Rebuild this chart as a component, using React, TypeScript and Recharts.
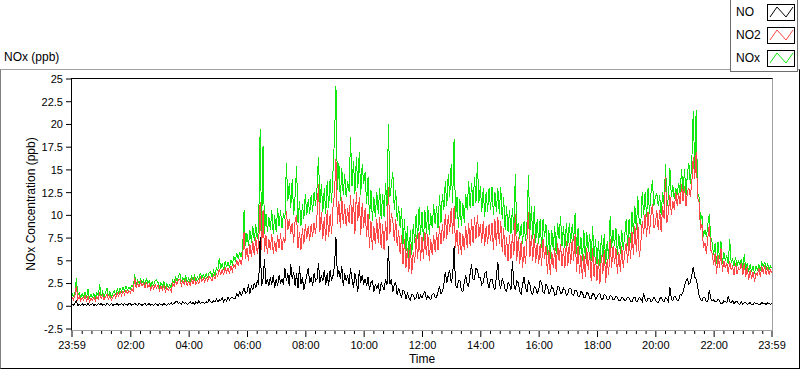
import { LineChart, Line, XAxis, YAxis } from "recharts";

// minutes since 23:59, one sample every 3 min
const STEP_MIN = 3;

const NO2 = [
  1.0, 0.7, 1.2, 2.2, 0.8, 1.1, 0.6, 1.0, 0.7, 1.2,
  0.6, 1.1, 0.5, 0.9, 0.7, 1.0, 0.6, 1.1, 0.8, 1.4,
  0.8, 1.2, 0.7, 1.1, 1.3, 0.8, 1.2, 0.7, 1.0, 1.3,
  0.9, 1.5, 1.1, 1.6, 1.2, 1.7, 1.3, 1.8, 1.4, 1.7,
  1.5, 1.9, 1.7, 3.1, 2.0, 2.6, 2.1, 2.7, 2.2, 2.5,
  2.0, 2.7, 2.1, 2.4, 1.8, 2.3, 1.9, 2.4, 2.0, 2.3,
  1.7, 2.2, 1.8, 2.3, 1.6, 2.1, 1.7, 2.0, 1.6, 2.5,
  2.2, 2.8, 2.4, 2.9, 3.0, 2.3, 2.8, 2.4, 2.9, 2.3,
  2.7, 2.3, 2.9, 2.5, 3.0, 2.4, 2.8, 2.5, 3.2, 2.7,
  3.1, 2.7, 3.2, 2.8, 3.3, 3.1, 2.8, 3.4, 3.0, 3.6,
  3.3, 4.1, 3.5, 4.0, 3.4, 4.3, 3.7, 4.2, 3.6, 4.4,
  3.9, 4.6, 4.3, 5.0, 4.5, 5.2, 4.6, 5.4, 8.2, 5.2,
  6.4, 5.0, 6.8, 5.4, 7.2, 5.6, 7.6, 5.8, 6.8, 11.5,
  6.2, 10.6, 6.0, 7.8, 5.8, 7.4, 6.2, 8.0, 5.8, 7.2,
  6.0, 7.8, 6.4, 8.0, 6.2, 7.6, 7.0, 10.5, 8.4, 9.6,
  8.0, 9.2, 7.0, 9.4, 10.0, 6.4, 8.2, 6.2, 8.6, 6.8,
  9.0, 7.4, 8.8, 7.2, 9.0, 7.6, 9.2, 8.0, 10.0, 13.5,
  8.2, 10.4, 7.4, 9.8, 7.2, 10.6, 7.6, 10.2, 8.0, 11.0,
  12.4, 16.2, 9.0, 11.6, 8.6, 12.0, 9.0, 11.2, 8.8, 10.8,
  9.2, 12.2, 9.0, 11.8, 8.0, 12.6, 9.4, 12.0, 7.8, 11.4,
  8.6, 10.8, 7.6, 10.2, 6.4, 9.4, 6.2, 8.8, 6.8, 9.6,
  7.0, 9.8, 6.4, 9.0, 6.2, 9.4, 7.2, 13.1, 8.0, 10.2,
  9.4, 7.2, 9.6, 6.6, 8.4, 5.8, 7.8, 4.6, 7.4, 4.2,
  6.4, 3.8, 6.8, 3.6, 6.0, 4.8, 7.8, 5.2, 8.2, 5.0,
  7.6, 5.2, 8.2, 5.6, 8.0, 5.0, 7.4, 5.6, 7.8, 6.0,
  8.2, 6.2, 8.8, 6.8, 9.0, 7.2, 10.2, 7.4, 10.0, 8.2,
  10.8, 8.0, 11.0, 6.4, 8.4, 5.8, 8.2, 5.6, 8.0, 6.2,
  8.8, 6.4, 9.2, 6.6, 9.6, 7.0, 9.8, 7.4, 10.0, 7.6,
  9.0, 7.0, 9.4, 6.6, 8.8, 6.8, 9.0, 7.2, 9.2, 6.2,
  9.6, 6.6, 9.8, 6.8, 9.4, 6.0, 8.6, 5.4, 7.6, 5.0,
  7.8, 5.2, 8.0, 5.6, 10.2, 5.0, 7.6, 4.6, 7.2, 4.2,
  6.6, 4.6, 7.4, 10.4, 5.4, 7.8, 5.0, 8.0, 4.8, 7.0,
  4.6, 6.8, 4.4, 7.4, 5.2, 6.6, 3.6, 6.2, 3.4, 6.0,
  4.2, 6.4, 3.8, 7.0, 5.0, 6.8, 4.4, 6.4, 4.2, 7.2,
  4.4, 7.0, 4.6, 7.4, 5.0, 8.0, 3.8, 6.6, 3.6, 5.6,
  3.0, 5.8, 3.2, 6.4, 4.0, 6.0, 2.8, 6.4, 3.2, 5.4,
  2.8, 5.2, 2.4, 5.6, 3.6, 6.2, 2.6, 5.2, 3.4, 7.4,
  4.2, 6.6, 4.6, 6.4, 3.6, 6.0, 3.8, 6.6, 4.2, 5.8,
  7.0, 4.8, 7.6, 5.2, 8.2, 5.6, 8.8, 6.0, 9.2, 5.4,
  6.8, 9.4, 8.0, 10.2, 7.6, 10.4, 8.0, 10.0, 11.2, 8.6,
  9.0, 10.6, 8.4, 10.6, 8.2, 11.0, 9.6, 14.2, 9.2, 10.4,
  12.2, 10.0, 11.6, 10.6, 12.6, 11.0, 12.4, 11.2, 13.4, 11.6,
  13.2, 11.0, 12.6, 13.0, 12.0, 13.6, 16.4, 14.0, 17.0, 12.0,
  11.4, 8.4, 9.0, 6.4, 7.0, 5.8, 7.6, 9.0, 6.2, 5.8,
  4.6, 5.8, 3.6, 5.6, 4.2, 6.4, 3.8, 5.0, 4.2, 4.8,
  3.6, 5.0, 4.0, 4.4, 3.4, 4.8, 3.6, 4.2, 4.0, 4.8,
  3.4, 4.8, 3.2, 4.4, 2.9, 4.0, 3.0, 3.8, 2.7, 3.6,
  3.4, 4.2, 3.2, 4.4, 3.6, 4.5, 3.4, 4.3, 3.5, 4.0,
  3.7,
];

const NOX = [
  1.4, 1.1, 1.5, 3.1, 1.2, 1.5, 1.0, 1.4, 1.0, 1.6,
  0.9, 1.9, 0.8, 1.3, 1.0, 1.4, 0.9, 1.5, 1.2, 2.4,
  1.1, 1.6, 1.0, 1.5, 2.0, 1.1, 1.6, 1.0, 1.4, 1.7,
  1.3, 1.9, 1.5, 2.0, 1.6, 2.1, 1.7, 2.2, 1.8, 2.1,
  1.9, 2.3, 2.1, 3.5, 2.4, 2.9, 2.5, 3.0, 2.6, 2.9,
  2.4, 3.1, 2.5, 2.8, 2.2, 2.7, 2.3, 2.8, 2.9, 2.6,
  2.1, 2.6, 2.2, 2.7, 2.0, 2.5, 2.1, 2.4, 2.0, 2.9,
  2.6, 3.2, 2.8, 3.3, 3.6, 2.7, 3.2, 2.8, 3.3, 2.7,
  3.1, 2.7, 3.3, 2.9, 3.4, 2.8, 3.2, 2.9, 3.7, 3.1,
  3.5, 3.1, 3.6, 3.2, 3.7, 3.8, 3.2, 3.9, 3.4, 4.2,
  3.9, 5.3, 4.1, 4.7, 4.0, 5.0, 4.3, 4.9, 4.2, 5.1,
  4.6, 5.4, 5.0, 5.8, 5.2, 6.0, 5.4, 6.3, 10.6, 6.6,
  8.0, 6.6, 8.4, 7.0, 8.8, 7.2, 9.0, 7.4, 8.6, 19.5,
  8.2, 17.6, 8.0, 10.2, 8.2, 9.8, 8.4, 10.6, 8.0, 10.0,
  8.2, 10.8, 8.8, 10.6, 8.6, 10.2, 9.6, 15.8, 11.6, 13.6,
  10.8, 14.0, 10.0, 12.2, 15.4, 9.2, 11.6, 8.8, 11.2, 9.6,
  12.4, 10.0, 11.8, 10.2, 12.2, 10.4, 12.6, 11.0, 13.0, 16.4,
  11.2, 13.4, 10.4, 13.0, 10.2, 13.8, 10.8, 14.0, 11.4, 15.0,
  18.5, 24.2, 12.8, 15.8, 11.6, 15.2, 12.2, 14.6, 12.0, 13.8,
  12.6, 18.6, 13.2, 16.0, 12.4, 16.4, 13.0, 17.0, 12.2, 15.6,
  13.4, 14.8, 11.2, 14.2, 9.6, 12.8, 9.4, 12.0, 9.8, 12.6,
  10.2, 13.0, 9.6, 12.4, 9.8, 13.6, 11.0, 20.1, 12.0, 13.4,
  14.8, 10.6, 12.8, 9.4, 11.0, 8.6, 10.8, 6.8, 9.6, 6.0,
  8.8, 4.8, 8.4, 5.6, 9.0, 7.0, 10.2, 7.4, 10.9, 7.8,
  10.4, 7.2, 10.6, 8.0, 11.0, 7.8, 10.2, 8.6, 11.2, 9.0,
  11.0, 8.6, 12.2, 9.2, 12.4, 10.6, 13.8, 11.0, 14.6, 12.0,
  15.6, 11.4, 18.4, 9.6, 12.0, 8.6, 11.8, 8.8, 11.4, 9.2,
  12.4, 10.6, 13.8, 10.8, 13.6, 11.0, 14.2, 11.4, 15.9, 11.4,
  13.2, 10.4, 13.0, 9.8, 12.6, 10.4, 13.0, 10.6, 13.1, 10.0,
  12.6, 10.4, 13.0, 10.2, 13.1, 9.6, 12.0, 8.4, 11.0, 8.2,
  10.6, 8.0, 10.8, 8.4, 14.6, 8.0, 9.2, 7.4, 9.0, 6.9,
  9.4, 7.2, 9.2, 14.4, 8.2, 11.0, 7.4, 11.0, 7.0, 9.6,
  6.8, 9.6, 6.4, 9.6, 7.6, 9.0, 5.6, 8.4, 5.2, 8.4,
  6.2, 8.8, 5.8, 9.2, 7.4, 9.9, 6.6, 8.8, 6.4, 9.2,
  6.6, 9.2, 7.0, 9.0, 7.2, 10.3, 5.8, 8.6, 5.6, 7.6,
  5.0, 8.4, 5.2, 8.2, 6.0, 8.0, 5.0, 8.8, 5.4, 7.4,
  4.6, 7.2, 4.4, 7.8, 5.4, 8.0, 4.6, 7.2, 5.2, 9.9,
  6.4, 8.4, 6.6, 8.6, 5.6, 8.0, 5.8, 8.4, 6.2, 7.8,
  9.6, 6.6, 9.6, 7.0, 10.4, 8.0, 11.0, 8.4, 12.1, 9.2,
  9.0, 12.6, 10.0, 12.6, 9.8, 13.0, 10.2, 12.4, 13.9, 11.0,
  12.0, 12.4, 11.0, 12.2, 10.0, 12.6, 11.2, 15.6, 11.0, 12.0,
  15.2, 12.0, 13.3, 11.8, 13.0, 12.2, 13.6, 12.4, 15.1, 12.6,
  15.1, 12.2, 14.6, 15.8, 13.4, 15.8, 21.5, 15.0, 21.6, 12.4,
  12.0, 9.4, 10.0, 7.6, 8.4, 7.6, 9.0, 10.1, 7.6, 7.0,
  5.6, 7.0, 4.6, 7.1, 5.2, 7.2, 4.6, 6.0, 5.0, 5.6,
  4.6, 7.4, 4.8, 5.2, 4.4, 5.4, 4.4, 5.0, 4.6, 5.2,
  4.2, 5.7, 4.0, 4.8, 3.8, 4.6, 3.8, 4.4, 3.6, 4.4,
  4.0, 4.6, 3.9, 4.8, 4.4, 4.9, 4.0, 4.7, 4.0, 4.4,
  4.2,
];

const NO = [
  0.2, 0.1, 0.3, 0.6, 0.1, 0.2, 0.1, 0.3, 0.1, 0.2,
  0.1, 0.3, 0.1, 0.2, 0.3, 0.1, 0.2, 0.1, 0.3, 0.2,
  0.3, 0.1, 0.2, 0.1, 0.3, 0.2, 0.1, 0.3, 0.1, 0.2,
  0.2, 0.3, 0.1, 0.2, 0.3, 0.1, 0.3, 0.2, 0.1, 0.3,
  0.3, 0.1, 0.2, 0.3, 0.2, 0.1, 0.3, 0.2, 0.1, 0.2,
  0.3, 0.1, 0.2, 0.3, 0.1, 0.2, 0.1, 0.3, 0.2, 0.1,
  0.3, 0.2, 0.1, 0.3, 0.2, 0.1, 0.3, 0.2, 0.4, 0.2,
  0.3, 0.5, 0.6, 0.3, 0.4, 0.2, 0.5, 0.3, 0.4, 0.2,
  0.3, 0.5, 0.3, 0.4, 0.2, 0.5, 0.3, 0.6, 0.3, 0.4,
  0.4, 0.3, 0.5, 0.4, 0.8, 0.5, 0.4, 0.6, 0.5, 0.8,
  0.5, 0.7, 0.6, 0.9, 0.5, 0.8, 0.6, 1.0, 0.7, 0.9,
  1.0, 0.8, 0.9, 1.4, 1.1, 1.6, 1.2, 1.5, 2.0, 1.4,
  1.6, 2.4, 1.4, 2.2, 1.8, 2.6, 2.0, 2.8, 2.4, 7.6,
  2.2, 3.0, 5.2, 2.4, 3.0, 2.2, 3.2, 2.4, 3.4, 2.0,
  3.0, 2.2, 3.4, 2.6, 3.0, 2.4, 4.2, 2.8, 3.6, 2.2,
  4.6, 3.0, 3.8, 2.2, 3.6, 2.0, 4.4, 2.4, 3.2, 1.8,
  2.6, 3.4, 4.2, 2.6, 3.2, 2.2, 3.6, 2.8, 3.0, 4.8,
  2.6, 3.4, 2.8, 4.0, 2.4, 3.6, 2.2, 4.0, 2.8, 3.4,
  4.4, 7.6, 3.2, 4.0, 3.0, 4.4, 2.2, 3.6, 2.8, 3.4,
  2.4, 4.2, 3.0, 2.0, 3.6, 2.8, 1.6, 4.0, 2.6, 3.4,
  2.4, 3.0, 2.2, 3.2, 1.8, 2.6, 2.8, 1.6, 2.4, 2.0,
  2.4, 1.4, 2.6, 2.2, 1.8, 3.0, 2.4, 6.6, 2.4, 3.0,
  1.6, 2.4, 2.6, 1.2, 2.0, 1.4, 1.0, 1.8, 1.6, 0.8,
  1.4, 0.9, 0.7, 1.3, 1.2, 0.8, 0.9, 1.6, 0.8, 1.2,
  0.9, 1.4, 1.6, 0.8, 1.2, 0.9, 0.7, 1.3, 1.4, 1.0,
  1.0, 1.6, 2.2, 1.4, 1.6, 2.4, 3.8, 2.6, 3.4, 4.0,
  2.6, 3.2, 6.6, 2.4, 2.0, 2.8, 2.8, 1.8, 1.6, 2.6,
  3.4, 2.4, 2.2, 3.6, 4.6, 3.0, 3.0, 4.2, 4.0, 3.2,
  3.2, 2.4, 2.6, 3.6, 3.8, 2.6, 2.0, 3.0, 3.0, 2.2,
  1.8, 3.2, 4.9, 2.4, 2.0, 3.0, 2.6, 1.8, 1.6, 2.6,
  2.4, 1.8, 5.0, 2.4, 1.8, 2.8, 2.6, 1.6, 1.4, 2.4,
  3.2, 2.0, 1.6, 2.8, 2.4, 1.4, 1.3, 2.2, 2.0, 1.4,
  1.8, 2.8, 2.6, 1.6, 1.4, 2.4, 2.2, 1.4, 1.6, 2.2,
  1.9, 1.2, 1.3, 2.2, 2.1, 1.4, 1.5, 2.0, 1.8, 1.2,
  1.4, 2.0, 2.0, 1.3, 1.2, 1.8, 1.7, 1.1, 1.1, 1.6,
  1.5, 1.0, 1.0, 1.5, 1.4, 0.9, 0.9, 1.4, 1.3, 0.8,
  1.0, 1.3, 1.4, 0.8, 0.8, 1.3, 1.2, 0.7, 0.7, 1.2,
  1.1, 0.7, 0.8, 1.1, 1.0, 0.6, 0.6, 1.0, 0.9, 0.6,
  0.7, 1.0, 0.9, 0.5, 0.5, 0.9, 1.0, 0.5, 0.6, 1.0,
  0.8, 0.5, 1.4, 0.7, 0.5, 0.9, 0.9, 0.5, 0.6, 1.0,
  0.7, 0.5, 0.4, 0.8, 1.0, 0.6, 0.5, 0.9, 0.8, 0.5,
  2.1, 0.8, 0.6, 1.1, 1.0, 0.6, 0.7, 1.3, 1.2, 1.6,
  2.2, 2.8, 3.0, 2.4, 2.6, 3.4, 4.3, 3.2, 3.0, 2.2,
  1.2, 0.7, 0.6, 1.0, 0.9, 0.5, 0.5, 1.8, 0.8, 0.6,
  0.7, 0.5, 0.5, 0.8, 0.6, 0.3, 0.3, 0.6, 0.5, 0.4,
  1.1, 0.5, 0.4, 0.6, 0.3, 0.5, 0.6, 0.3, 0.2, 0.5,
  0.2, 0.4, 0.4, 0.2, 0.3, 0.4, 0.2, 0.2, 0.4, 0.3,
  0.3, 0.2, 0.2, 0.4, 0.3, 0.3, 0.2, 0.4, 0.3, 0.2,
  0.3,
];

const TIME_LABELS = ["23:59", "02:00", "04:00", "06:00", "08:00", "10:00", "12:00", "14:00", "16:00", "18:00", "20:00", "22:00", "23:59"];
const Y_TICKS = [-2.5, 0, 2.5, 5, 7.5, 10, 12.5, 15, 17.5, 20, 22.5, 25];

// legend order; drawn in reverse so NO sits on top
const SERIES = [
  { key: "NO", color: "#000000" },
  { key: "NO2", color: "#ff4848" },
  { key: "NOx", color: "#10e810" },
];

const FONT = '"Liberation Sans", Arial, sans-serif';
const END_MIN = (NO.length - 1) * STEP_MIN;

const data = NO.map((v, i) => ({ t: i * STEP_MIN, NO: v, NO2: NO2[i], NOx: NOX[i] }));

const MAJOR_TICKS = TIME_LABELS.map((_, k) => (k === 0 ? 0 : k === TIME_LABELS.length - 1 ? END_MIN : k * 120 + 1));
const X_TICKS = [0, ...Array.from({ length: 71 }, (_, j) => 21 + j * 20), END_MIN];

function TimeTick(props: any) {
  const { x, y, payload } = props;
  const k = MAJOR_TICKS.indexOf(payload.value);
  return (
    <g>
      <line x1={x} x2={x} y1={y + 2} y2={y + (k >= 0 ? 8 : 5)} stroke="#000" />
      {k >= 0 && (
        <text x={x} y={y + 20} textAnchor="middle" fontSize={11} fill="#000" fontFamily={FONT}>
          {TIME_LABELS[k]}
        </text>
      )}
    </g>
  );
}

function Swatch({ color }: { color: string }) {
  return (
    <svg width={28} height={17} style={{ display: "block" }}>
      <rect x={0.5} y={0.5} width={27} height={16} fill="#fff" stroke="#000" />
      <polyline points="3,13 10,3 19,13 26,3" fill="none" stroke={color} strokeWidth={1} />
    </svg>
  );
}

export default function App() {
  return (
    <div style={{ position: "relative", width: 800, height: 369, background: "#fff", fontFamily: FONT, overflow: "hidden" }}>
      <style>{"body{margin:0}"}</style>

      {/* outer panel frame */}
      <div style={{ position: "absolute", left: 0, top: 69, width: 800, height: 300, boxSizing: "border-box",
        borderTop: "1px solid #a0a0a0", borderLeft: "1px solid #808080", borderRight: "1px solid #000", borderBottom: "1px solid #000" }} />

      <div style={{ position: "absolute", left: 4, top: 50, fontSize: 12, color: "#000" }}>NOx (ppb)</div>

      <div style={{ position: "absolute", left: 0, top: 0 }}>
        <LineChart width={800} height={369} data={data} margin={{ top: 79, right: 28, bottom: 0, left: 0 }}>
          <XAxis type="number" dataKey="t" domain={[0, END_MIN]} ticks={X_TICKS} interval={0}
            axisLine={false} tickLine={false} tickSize={0} tickMargin={0} height={40} tick={<TimeTick />} />
          <YAxis type="number" domain={[-2.5, 25]} ticks={Y_TICKS} interval={0} width={72}
            axisLine={false} tickSize={6} tickMargin={3} tickLine={{ stroke: "#000" }}
            tick={{ fontSize: 11, fill: "#000", fontFamily: FONT }} />
          {[...SERIES].reverse().map((s) => (
            <Line key={s.key} type="linear" dataKey={s.key} stroke={s.color} strokeWidth={1}
              dot={false} activeDot={false} isAnimationActive={false} style={{ shapeRendering: "crispEdges" }} />
          ))}
        </LineChart>
      </div>

      {/* plot frame: sunken border */}
      <div style={{ position: "absolute", left: 71, top: 78, width: 702, height: 253, boxSizing: "border-box", pointerEvents: "none",
        borderTop: "1px solid #000", borderLeft: "1px solid #000", borderRight: "1px solid #a0a0a0", borderBottom: "1px solid #a0a0a0" }} />

      <div style={{ position: "absolute", left: 31, top: 204, transform: "translate(-50%, -50%) rotate(-90deg)",
        whiteSpace: "nowrap", fontSize: 12, color: "#000" }}>NOx Concentration (ppb)</div>
      <div style={{ position: "absolute", left: 422, top: 359, transform: "translate(-50%, -50%)", fontSize: 12, color: "#000" }}>Time</div>

      {/* legend */}
      <div style={{ position: "absolute", left: 730, top: -1, width: 68, height: 73, boxSizing: "border-box", background: "#fff",
        border: "1px solid #6e6e6e" }}>
        {SERIES.map((s, i) => (
          <div key={s.key} style={{ position: "absolute", left: 0, top: 4 + i * 23, width: 66, height: 17 }}>
            <span style={{ position: "absolute", left: 5, top: 1, fontSize: 12, color: "#000" }}>{s.key}</span>
            <div style={{ position: "absolute", left: 36, top: 0 }}>
              <Swatch color={s.color} />
            </div>
          </div>
        ))}
      </div>
    </div>
  );
}
